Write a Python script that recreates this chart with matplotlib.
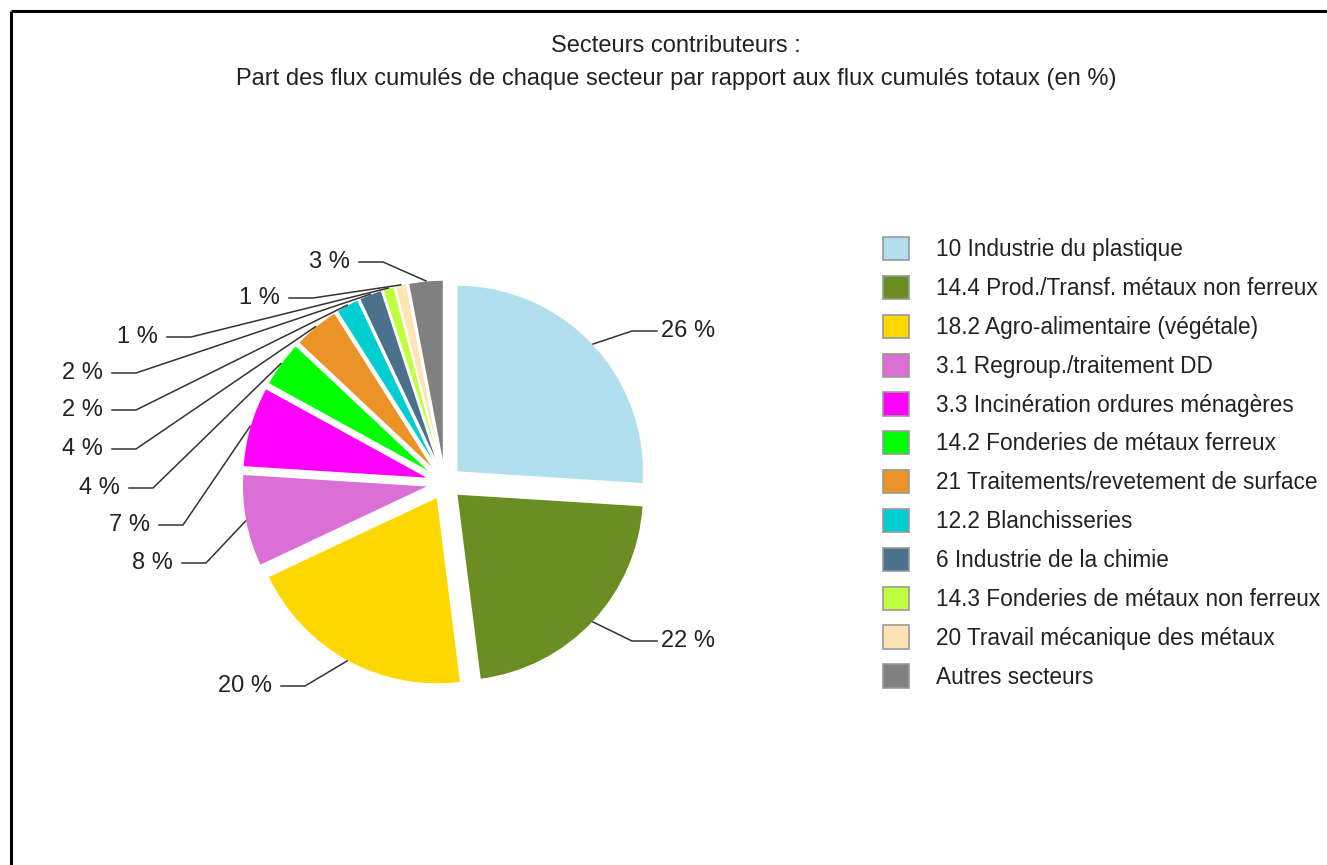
"""Secteurs contributeurs : pie chart of the share of cumulated flows per sector."""

import matplotlib
matplotlib.use("Agg")
import matplotlib.pyplot as plt
from matplotlib.patches import Patch
import numpy as np

plt.rcParams["font.family"] = ["Liberation Sans", "DejaVu Sans"]

W, H = 1327, 865

# ---------------------------------------------------------------------------
# Data (clockwise from 12 o'clock)
# ---------------------------------------------------------------------------
SECTORS = [
    "10 Industrie du plastique",
    "14.4 Prod./Transf. métaux non ferreux",
    "18.2 Agro-alimentaire (végétale)",
    "3.1 Regroup./traitement DD",
    "3.3 Incinération ordures ménagères",
    "14.2 Fonderies de métaux ferreux",
    "21 Traitements/revetement de surface",
    "12.2 Blanchisseries",
    "6 Industrie de la chimie",
    "14.3 Fonderies de métaux non ferreux",
    "20 Travail mécanique des métaux",
    "Autres secteurs",
]
SHARES = [26, 22, 20, 8, 7, 4, 4, 2, 2, 1, 1, 3]

COLORS = [
    "#B2DFEE", "#6B8E23", "#FFD700", "#DA70D6", "#FF00FF", "#00FF00",
    "#EC9327", "#00CED1", "#4A708B", "#C0FF3E", "#FFE4B5", "#808080",
]

# label layout (pixel coords, y from top): text edge x, text y
LABEL_X = [661, 661, 272, 173, 150, 120, 103, 103, 103, 158, 280, 350]
LABEL_Y = [331, 641, 686, 563, 525, 488, 449, 410, 373, 337, 298, 262]

CENTER = (445, H - 483)
RADIUS = 187
EXPLODE = 16  # pixels, matplotlib uses absolute data units


def main() -> None:
    fig = plt.figure(figsize=(W / 100, H / 100), dpi=100)
    ax = fig.add_axes([0, 0, 1, 1])

    wedges, _ = ax.pie(
        SHARES,
        colors=COLORS,
        explode=[EXPLODE] * len(SHARES),
        startangle=90,
        counterclock=False,
        center=CENTER,
        radius=RADIUS,
        wedgeprops=dict(edgecolor="white", linewidth=1.0),
    )
    ax.set_xlim(0, W)
    ax.set_ylim(0, H)
    ax.set_aspect("auto")
    ax.axis("off")

    # leader lines + percentage labels
    for w, val, lx, ly in zip(wedges, SHARES, LABEL_X, LABEL_Y):
        phi = np.deg2rad((w.theta1 + w.theta2) / 2)
        ax_x = w.center[0] + RADIUS * np.cos(phi)
        ax_y = w.center[1] + RADIUS * np.sin(phi)
        y = H - ly
        if lx > CENTER[0]:
            seg = [lx - 29, lx - 4]
            ha = "left"
        else:
            seg = [lx + 33, lx + 9]
            ha = "right"
        ax.plot([ax_x, seg[0], seg[1]], [ax_y, y, y], color="#333333", lw=1.1,
                solid_joinstyle="miter")
        ax.text(lx, y, f"{val} %", ha=ha, va="center", fontsize=17, color="#222222")

    # title
    tx = 676 / W
    fig.text(tx, 1 - 46 / H, "Secteurs contributeurs :", ha="center", va="center",
             fontsize=17, color="#222222")
    fig.text(tx, 1 - 79 / H,
             "Part des flux cumulés de chaque secteur par rapport aux flux cumulés totaux (en %)",
             ha="center", va="center", fontsize=17, color="#222222")

    # legend
    handles = [Patch(facecolor=c, edgecolor="#999999", linewidth=1.2) for c in COLORS]
    fig.legend(
        handles, SECTORS,
        loc="upper left", bbox_to_anchor=(883 / W, 1 - 237 / H),
        frameon=False, fontsize=16.3, borderpad=0, borderaxespad=0,
        handlelength=1.15, handleheight=1.2, handletextpad=1.2,
        labelspacing=0.645, labelcolor="#222222",
    )

    # frame (top and left only)
    ax.plot([11, W], [H - 11, H - 11], color="black", lw=2.2, solid_capstyle="butt")
    ax.plot([11, 11], [H - 11, 0], color="black", lw=2.2, solid_capstyle="butt")

    fig.savefig("out.png", dpi=100)
    plt.close(fig)


if __name__ == "__main__":
    main()
